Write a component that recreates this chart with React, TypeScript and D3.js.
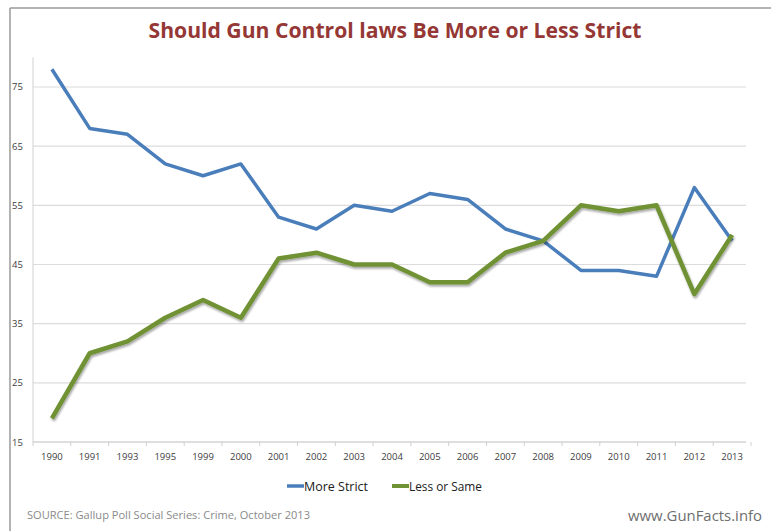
import React from "react";
import * as d3 from "d3";

const years = ["1990","1991","1993","1995","1999","2000","2001","2002","2003","2004","2005","2006","2007","2008","2009","2010","2011","2012","2013"];
const moreStrict = [78,68,67,62,60,62,53,51,55,54,57,56,51,49,44,44,43,58,49];
const lessOrSame = [19,30,32,36,39,36,46,47,45,45,42,42,47,49,55,54,55,40,50];
const yTicks = [15,25,35,45,55,65,75];

const W = 771, H = 531;
const left = 33, right = 751, top = 57.4, bottom = 442;

export default function App() {
  const x = d3.scaleBand<string>().domain(years).range([left, right]);
  const y = d3.scaleLinear().domain([15, 80]).range([bottom, top]);
  const cx = (d: string) => (x(d) as number) + x.bandwidth() / 2;
  const line = d3.line<number>().x((_, i) => cx(years[i])).y(v => y(v));
  const font = "'Open Sans', 'Liberation Sans', sans-serif";
  const bounds = years.map(d => x(d) as number).concat([right]);
  return (
    <svg width={W} height={H} style={{ position: "absolute", left: 0, top: 0, background: "#fff" }} fontFamily={font}>
      <defs>
        <filter id="sh" x="-10%" y="-10%" width="120%" height="130%">
          <feDropShadow dx="1" dy="2" stdDeviation="1.3" floodColor="#000" floodOpacity="0.35" />
        </filter>
      </defs>
      <rect x={0} y={0} width={W} height={H} fill="#fff" />
      {/* frame */}
      <line x1={10} x2={W} y1={8} y2={8} stroke="#9a9a9a" strokeWidth={1.5} />
      <line x1={10} x2={10} y1={8} y2={H} stroke="#9a9a9a" strokeWidth={1.5} />
      {/* title */}
      <text x={395} y={38} textAnchor="middle" fontSize={22} fontWeight="bold" fill="#953735"
        textLength={493} lengthAdjust="spacingAndGlyphs">Should Gun Control laws Be More or Less Strict</text>
      {/* grid */}
      {yTicks.map(t => (
        <line key={t} x1={left} x2={right - 5} y1={y(t)} y2={y(t)} stroke="#dcdcdc" strokeWidth={1.2} />
      ))}
      <line x1={left} x2={left} y1={top} y2={bottom} stroke="#d0d0d0" strokeWidth={1} />
      <line x1={left} x2={right - 5} y1={bottom} y2={bottom} stroke="#d0d0d0" strokeWidth={1} />
      {bounds.map((b, i) => (
        <line key={i} x1={b} x2={b} y1={bottom} y2={bottom + 4} stroke="#d0d0d0" strokeWidth={1} />
      ))}
      {yTicks.map(t => (
        <text key={t} x={12} y={y(t) + 3.5} fontSize={9.5} fill="#404040">{t}</text>
      ))}
      {years.map(d => (
        <text key={d} x={cx(d)} y={460} textAnchor="middle" fontSize={9.5} fill="#404040">{d}</text>
      ))}
      {/* lines */}
      <path d={line(moreStrict) || ""} fill="none" stroke="#4a7ebb" strokeWidth={3.5} strokeLinejoin="round" />
      <path d={line(lessOrSame) || ""} fill="none" stroke="#6f9234" strokeWidth={4.5} strokeLinejoin="round" filter="url(#sh)" />
      {/* legend */}
      <line x1={287} x2={304} y1={486} y2={486} stroke="#4a7ebb" strokeWidth={3.5} />
      <text x={304} y={491} fontSize={13} fill="#202020" textLength={64} lengthAdjust="spacingAndGlyphs">More Strict</text>
      <line x1={392} x2={409} y1={486} y2={486} stroke="#6f9234" strokeWidth={4} />
      <text x={409} y={491} fontSize={13} fill="#202020" textLength={73} lengthAdjust="spacingAndGlyphs">Less or Same</text>
      {/* footer */}
      <text x={27} y={519} fontSize={11} fill="#8a8a8a" textLength={283} lengthAdjust="spacingAndGlyphs">SOURCE: Gallup Poll Social Series: Crime, October 2013</text>
      <text x={628} y={521} fontSize={15} fill="#6e6e6e" textLength={134} lengthAdjust="spacingAndGlyphs">www.GunFacts.info</text>
    </svg>
  );
}
